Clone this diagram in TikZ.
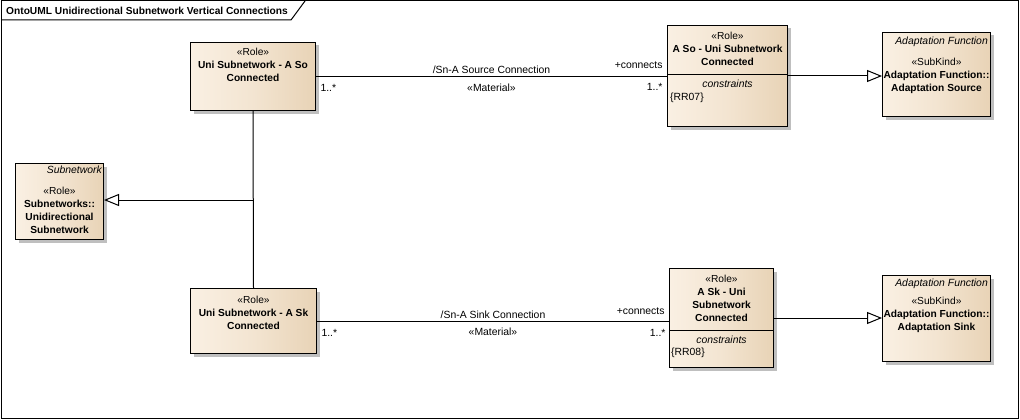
\documentclass[tikz,border=0pt]{standalone}
\usepackage{fontspec}
\setmainfont{Liberation Sans}
\usetikzlibrary{positioning,shadows,arrows.meta}

\definecolor{clsleft}{HTML}{FAF0E3}
\definecolor{clsright}{HTML}{E8D3B6}

\tikzset{
    cls/.style={draw, line width=1pt, anchor=north west, inner sep=0pt,
        left color=clsleft, right color=clsright, middle color=clsleft!60!clsright,
        drop shadow={shadow xshift=3pt, shadow yshift=-3pt, fill=black!25, opacity=1}},
    clstext/.style={font=\bfseries\fontsize{10.2}{13}\selectfont, align=center, inner sep=0pt},
    lbl/.style={font=\fontsize{10.4}{13}\selectfont, inner sep=0pt},
    line/.style={line width=1pt},
    gen/.style={line width=1pt, -{Triangle[open, length=15pt, width=12pt, fill=white]}},
}

\begin{document}
\begin{tikzpicture}[x=1pt, y=-1pt]
    \useasboundingbox (0,0) rectangle (1020,420);
    % frame and title tab
    \draw[line] (1,1) rectangle (1018,418);
    \draw[line] (1,20) -- (291,20) -- (305,1);
    \node[anchor=west, font=\bfseries\fontsize{10.2}{13}\selectfont, inner sep=0pt] (title) at (6,11) {OntoUML Unidirectional Subnetwork Vertical Connections};

    % classes
    \node[cls, minimum width=125pt, minimum height=68pt] (uniSo) at (190,42) {};
    \node[cls, minimum width=120pt, minimum height=101pt] (aSo) at (667,25) {};
    \node[cls, minimum width=108pt, minimum height=84pt] (adSrc) at (882,32) {};
    \node[cls, minimum width=88pt, minimum height=76pt] (sub) at (15,163) {};
    \node[cls, minimum width=126pt, minimum height=65pt] (uniSk) at (190,288) {};
    \node[cls, minimum width=104pt, minimum height=99pt] (aSk) at (669,268) {};
    \node[cls, minimum width=108pt, minimum height=86pt] (adSink) at (882,275) {};

    % compartments
    \draw[line] ([yshift=-50pt]aSo.north west) -- ([yshift=-50pt]aSo.north east);
    \draw[line] ([yshift=-62pt]aSk.north west) -- ([yshift=-62pt]aSk.north east);

    % class texts
    \node[clstext, below=6pt of uniSo.north] (uniSoT) {{\mdseries «Role»}\\Uni Subnetwork - A So\\Connected};
    \node[clstext, below=7pt of aSo.north] (aSoT) {{\mdseries «Role»}\\A So - Uni Subnetwork\\Connected};
    \node[lbl, font=\itshape\fontsize{10.4}{13}\selectfont, below=55pt of aSo.north] (aSoC) {constraints};
    \node[lbl, anchor=west] (aSoR) at (670,98) {\{RR07\}};
    \node[lbl, font=\itshape\fontsize{10.4}{13}\selectfont, anchor=north east] (adSrcP) at ([xshift=-3pt, yshift=-5pt]adSrc.north east) {Adaptation Function};
    \node[clstext, below=26pt of adSrc.north] (adSrcT) {{\mdseries «SubKind»}\\Adaptation Function::\\Adaptation Source};
    \node[lbl, font=\itshape\fontsize{10.4}{13}\selectfont, anchor=north east] (subP) at ([xshift=-2pt, yshift=-3pt]sub.north east) {Subnetwork};
    \node[clstext, below=24pt of sub.north] (subT) {{\mdseries «Role»}\\Subnetworks::\\Unidirectional\\Subnetwork};
    \node[clstext, below=8pt of uniSk.north] (uniSkT) {{\mdseries «Role»}\\Uni Subnetwork - A Sk\\Connected};
    \node[clstext, below=7pt of aSk.north] (aSkT) {{\mdseries «Role»}\\A Sk - Uni\\Subnetwork\\Connected};
    \node[lbl, font=\itshape\fontsize{10.4}{13}\selectfont, below=68pt of aSk.north] (aSkC) {constraints};
    \node[lbl, anchor=west] (aSkR) at (671,353) {\{RR08\}};
    \node[lbl, font=\itshape\fontsize{10.4}{13}\selectfont, anchor=north east] (adSinkP) at ([xshift=-3pt, yshift=-4pt]adSink.north east) {Adaptation Function};
    \node[clstext, below=22pt of adSink.north] (adSinkT) {{\mdseries «SubKind»}\\Adaptation Function::\\Adaptation Sink};

    % associations
    \draw[line] (uniSo.east) -- (uniSo.east -| aSo.west)
        node[lbl, midway, anchor=base, yshift=3pt] (srcName) {/Sn-A Source Connection}
        node[lbl, midway, anchor=base, yshift=-15pt] (srcSt) {«Material»}
        node[lbl, at start, anchor=base west, xshift=4pt, yshift=-15pt] (srcM1) {1..*}
        node[lbl, at end, anchor=base east, xshift=-4pt, yshift=-14pt] (srcM2) {1..*}
        node[lbl, at end, anchor=base east, xshift=-4pt, yshift=8pt] (srcRole) {+connects};
    \draw[line] (uniSk.east) -- (uniSk.east -| aSk.west)
        node[lbl, midway, anchor=base, yshift=3pt] (snkName) {/Sn-A Sink Connection}
        node[lbl, midway, anchor=base, yshift=-14pt] (snkSt) {«Material»}
        node[lbl, at start, anchor=base west, xshift=4pt, yshift=-15pt] (snkM1) {1..*}
        node[lbl, at end, anchor=base east, xshift=-3pt, yshift=-15pt] (snkM2) {1..*}
        node[lbl, at end, anchor=base east, xshift=-4pt, yshift=7pt] (snkRole) {+connects};

    % generalizations
    \draw[gen] (aSo.east) -- (aSo.east -| adSrc.west);
    \draw[gen] (aSk.east) -- (aSk.east -| adSink.west);
    \coordinate (join) at (uniSo.south |- 0,200);
    \draw[line] (uniSo.south) -- (uniSk.north);
    \draw[gen] (join) -- (join -| sub.east);
\end{tikzpicture}
\end{document}
